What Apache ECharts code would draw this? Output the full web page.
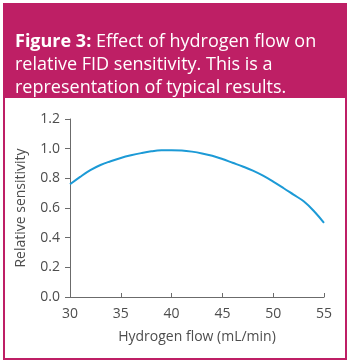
<!DOCTYPE html>
<html>
<head>
<meta charset="utf-8">
<script src="https://cdn.jsdelivr.net/npm/echarts@6/dist/echarts.min.js"></script>
<style>
  html, body { margin: 0; padding: 0; background: #ffffff; }
  #chart { width: 350px; height: 363px; }
</style>
</head>
<body>
<div id="chart"></div>
<script>
// Hydrogen flow (mL/min) and the relative FID sensitivity at each flow
const flowValues = [30, 31, 32, 33, 34, 35, 36, 37, 38, 39, 40, 41, 42, 43, 44, 45, 46, 47, 48, 49, 50, 51, 52, 53, 54, 55];
const sensitivityValues = [0.76, 0.81, 0.855, 0.89, 0.915, 0.937, 0.955, 0.97, 0.982, 0.989, 0.99, 0.988, 0.98, 0.968, 0.952, 0.93, 0.905, 0.88, 0.852, 0.818, 0.778, 0.735, 0.69, 0.645, 0.58, 0.50];

const xTicks = [30, 35, 40, 45, 50, 55];
const yTicks = [0.0, 0.2, 0.4, 0.6, 0.8, 1.0, 1.2];

const magenta = '#be1f65';
const font = '"Open Sans", "Noto Sans", sans-serif';

const chart = echarts.init(document.getElementById('chart'), null, { renderer: 'canvas' });

chart.setOption({
  animation: false,
  backgroundColor: '#ffffff',
  graphic: [
    { type: 'rect', shape: { x: 4, y: 4, width: 342, height: 355 },
      style: { fill: '#ffffff', stroke: magenta, lineWidth: 2 }, z: -10 },
    { type: 'rect', shape: { x: 3, y: 3, width: 344, height: 95 },
      style: { fill: magenta }, z: -9 }
  ],
  title: {
    left: 10,
    top: 25,
    text: '{b|Figure 3:} Effect of hydrogen flow on\nrelative FID sensitivity. This is a\nrepresentation of typical results.',
    textStyle: {
      color: '#ffffff',
      fontFamily: font,
      fontSize: 18,
      fontWeight: 'normal',
      lineHeight: 23,
      rich: {
        b: { color: '#ffffff', fontFamily: font, fontSize: 18, fontWeight: 'bold', lineHeight: 23 }
      }
    }
  },
  grid: { left: 70, right: 26, top: 119, bottom: 66 },
  xAxis: {
    type: 'value',
    min: xTicks[0],
    max: xTicks[xTicks.length - 1],
    interval: 5,
    name: 'Hydrogen flow (mL/min)',
    nameLocation: 'middle',
    nameGap: 33,
    nameTextStyle: { color: '#4d4d4d', fontFamily: font, fontSize: 14 },
    axisLine: { lineStyle: { color: '#6b6b6b', width: 1 } },
    axisTick: { inside: true, length: 4, lineStyle: { color: '#6b6b6b' } },
    axisLabel: { color: '#4d4d4d', fontFamily: font, fontSize: 14, margin: 10 },
    splitLine: { show: false }
  },
  yAxis: {
    type: 'value',
    min: yTicks[0],
    max: yTicks[yTicks.length - 1],
    interval: 0.2,
    name: 'Relative sensitivity',
    nameLocation: 'middle',
    nameGap: 42,
    nameTextStyle: { color: '#4d4d4d', fontFamily: font, fontSize: 14 },
    axisLine: { show: true, lineStyle: { color: '#6b6b6b', width: 1 } },
    axisTick: { show: true, length: 5, lineStyle: { color: '#6b6b6b' } },
    axisLabel: { color: '#4d4d4d', fontFamily: font, fontSize: 14, margin: 10,
      formatter: v => v.toFixed(1) },
    splitLine: { show: false }
  },
  series: [{
    type: 'line',
    data: flowValues.map((f, i) => [f, sensitivityValues[i]]),
    smooth: 0.4,
    showSymbol: false,
    lineStyle: { color: '#1c9ad6', width: 2 }
  }]
});
</script>
</body>
</html>
